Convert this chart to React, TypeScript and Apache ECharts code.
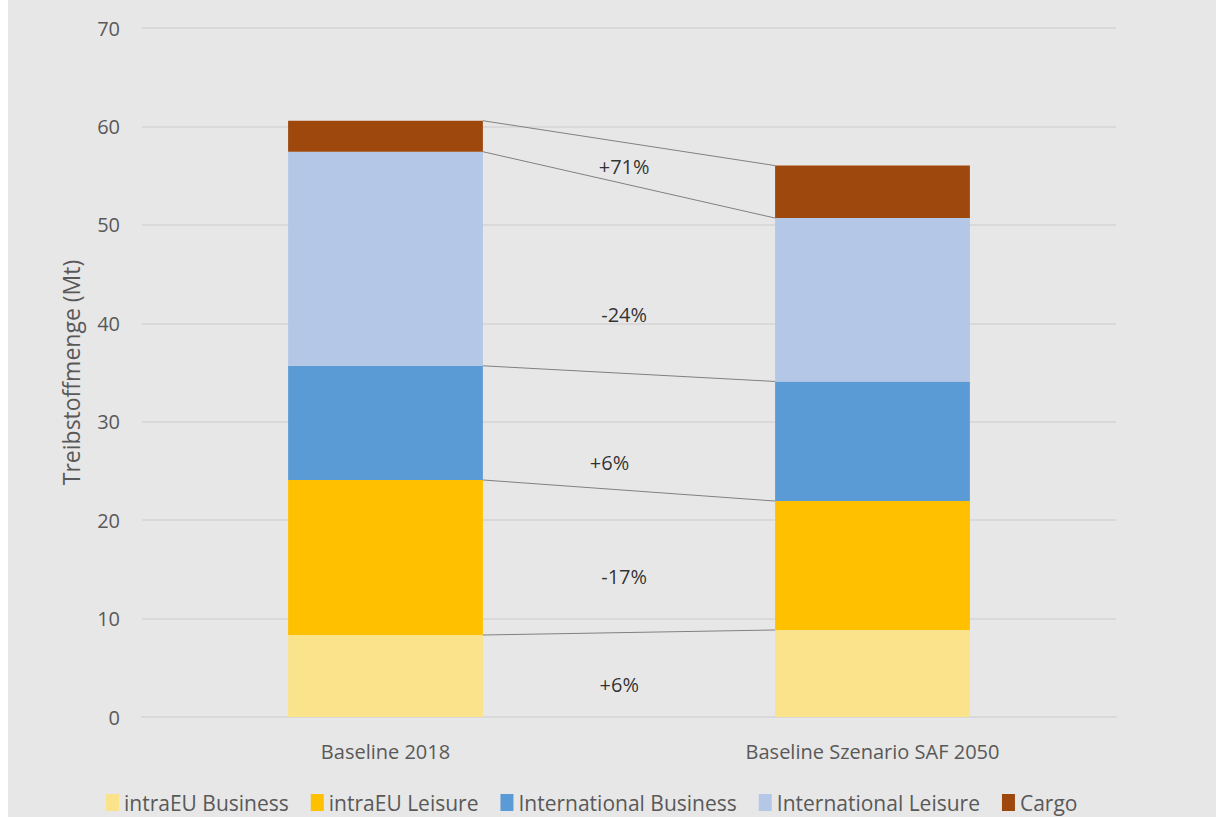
import React, { useEffect, useRef } from "react";
import * as echarts from "echarts";

const categories = ["Baseline 2018", "Baseline Szenario SAF 2050"];
const seriesNames = [
  "intraEU Business",
  "intraEU Leisure",
  "International Business",
  "International Leisure",
  "Cargo",
];
const intraEUBusiness = [8.33, 8.84];
const intraEULeisure = [15.75, 13.1];
const internationalBusiness = [11.6, 12.15];
const internationalLeisure = [21.75, 16.6];
const cargo = [3.15, 5.33];
const colors = ["#fae38a", "#ffc000", "#5b9bd5", "#b4c7e7", "#9e480e"];
const changeLabels = ["+71%", "-24%", "+6%", "-17%", "+6%"];
const changeLabelX = [0.99, 0.99, 0.96, 0.99, 0.98];
const changeLabelY = [55.9, 40.9, 25.9, 14.3, 3.35];
const yTicks = { min: 0, max: 70, interval: 10 };

export default function App() {
  const ref = useRef<HTMLDivElement>(null);
  useEffect(() => {
    if (!ref.current) return;
    const chart = echarts.init(ref.current, null, { renderer: "svg" });
    const values = [
      intraEUBusiness,
      intraEULeisure,
      internationalBusiness,
      internationalLeisure,
      cargo,
    ];
    const barFrac = 0.4;
    const cum: number[][] = [];
    let acc = [0, 0];
    values.forEach((v) => {
      acc = [acc[0] + v[0], acc[1] + v[1]];
      cum.push([acc[0], acc[1]]);
    });
    const font = "'Open Sans', sans-serif";
    const barSeries = values.map((v, i) => ({
      type: "bar",
      name: seriesNames[i],
      stack: "total",
      data: v,
      barWidth: "40%",
      itemStyle: { color: colors[i] },
      xAxisIndex: 0,
      yAxisIndex: 0,
    }));
    const connectors = cum.map((c, i) => ({
      type: "line",
      name: "conn" + i,
      xAxisIndex: 1,
      yAxisIndex: 0,
      data: [
        [0.5 + barFrac / 2, c[0]],
        [1.5 - barFrac / 2, c[1]],
      ],
      symbol: "none",
      silent: true,
      lineStyle: { color: "#808080", width: 1 },
      z: 5,
    }));
    const labels = {
      type: "scatter",
      name: "labels",
      xAxisIndex: 1,
      yAxisIndex: 0,
      symbolSize: 0,
      silent: true,
      data: changeLabels.map((t, i) => ({
        name: t,
        value: [changeLabelX[i], changeLabelY[i]],
      })),
      label: {
        show: true,
        position: "inside",
        formatter: (p: any) => p.name,
        color: "#000",
        fontSize: 20,
        fontFamily: font,
      },
    };
    chart.setOption({
      animation: false,
      backgroundColor: "#e7e7e7",
      textStyle: { fontFamily: font },
      grid: { left: 134, right: 100, top: 28, bottom: 100 },
      legend: {
        data: seriesNames,
        left: 93,
        top: 787,
        itemWidth: 13,
        itemHeight: 17,
        itemGap: 22,
        icon: "rect",
        textStyle: { color: "#595959", fontSize: 21, fontFamily: font },
      },
      xAxis: [
        {
          type: "category",
          data: categories,
          axisLine: { lineStyle: { color: "#d9d9d9", width: 2 } },
          axisTick: { show: false },
          axisLabel: { color: "#595959", fontSize: 20, margin: 24, fontFamily: font },
        },
        { type: "value", min: 0, max: 2, show: false },
      ],
      yAxis: {
        type: "value",
        min: yTicks.min,
        max: yTicks.max,
        interval: yTicks.interval,
        name: "Treibstoffmenge (Mt)",
        nameLocation: "middle",
        nameGap: 60,
        nameTextStyle: { color: "#595959", fontSize: 23, fontFamily: font },
        axisLine: { show: false },
        axisTick: { show: false },
        axisLabel: { color: "#595959", fontSize: 20, margin: 22, fontFamily: font },
        splitLine: { lineStyle: { color: "#d9d9d9", width: 2 } },
      },
      series: [...barSeries, ...connectors, labels],
    });
    return () => chart.dispose();
  }, []);
  return (
    <div
      ref={ref}
      style={{ position: "fixed", left: 8, top: 0, width: 1208, height: 817 }}
    />
  );
}
